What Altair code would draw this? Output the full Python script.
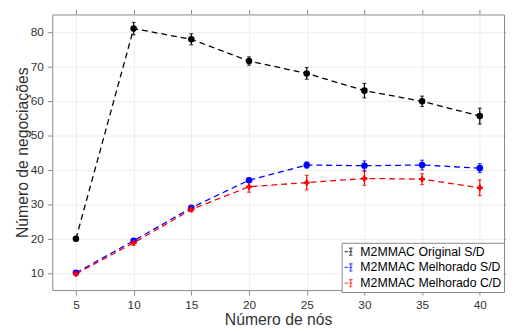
import altair as alt
import pandas as pd

nodes = [5, 10, 15, 20, 25, 30, 35, 40]
series_names = ["M2MMAC Original S/D", "M2MMAC Melhorado S/D", "M2MMAC Melhorado C/D"]
original = [19.9, 80.9, 77.8, 71.5, 67.9, 62.9, 59.8, 55.5]
original_err = [0.6, 1.8, 1.6, 1.2, 1.7, 2.1, 1.5, 2.3]
melhorado_sd = [10.0, 19.3, 28.9, 36.9, 41.3, 41.1, 41.3, 40.4]
melhorado_sd_err = [0.4, 0.5, 0.5, 0.6, 0.9, 1.4, 1.4, 1.3]
melhorado_cd = [9.7, 18.7, 28.4, 35.0, 36.2, 37.4, 37.2, 34.7]
melhorado_cd_err = [0.5, 0.7, 0.6, 1.6, 2.1, 2.0, 1.6, 2.3]
y_ticks = [10, 20, 30, 40, 50, 60, 70, 80]
colors = ["#000000", "#0000ff", "#ff0000"]

rows = []
for name, vals, errs in zip(series_names, [original, melhorado_sd, melhorado_cd],
                            [original_err, melhorado_sd_err, melhorado_cd_err]):
    for n, v, e in zip(nodes, vals, errs):
        rows.append({"nos": n, "valor": v, "lo": v - e, "hi": v + e, "serie": name})
df = pd.DataFrame(rows)

FONT = "Liberation Sans"
xscale = alt.Scale(domain=[2.95, 42.1], nice=False, zero=False)
yscale = alt.Scale(domain=[5, 85], nice=False, zero=False)

legend_path = ("M-1,0H-0.45M0.05,-0.6V0.6M-0.25,-0.6H0.35"
               "M-0.25,0.6H0.35M-0.2,0H0.3")
color = alt.Color(
    "serie:N",
    scale=alt.Scale(domain=series_names, range=colors),
    sort=series_names,
    legend=alt.Legend(
        title=None, orient="none", legendX=294, legendY=232,
        symbolType=legend_path, symbolSize=144, symbolStrokeWidth=1.2,
        symbolFillColor="transparent", labelFontSize=12.5, labelFont=FONT,
        labelColor="#000000", fillColor="white", strokeColor="#888888",
        padding=2, rowPadding=2, labelOffset=3, labelLimit=300,
    ),
)

base = alt.Chart(df)

x_plain = alt.X("nos:Q", scale=xscale, axis=None)

lines = base.mark_line(strokeDash=[6, 4], strokeWidth=1.3).encode(
    x=alt.X("nos:Q", scale=xscale,
            axis=alt.Axis(values=nodes, title="Número de nós", orient="bottom",
                          titleFontSize=16, titleFontWeight="normal",
                          titlePadding=1, labelPadding=5)),
    y=alt.Y("valor:Q", scale=yscale,
            axis=alt.Axis(values=y_ticks, title="Número de negociações", orient="left",
                          titleFontSize=16, titleFontWeight="normal",
                          titlePadding=0, labelPadding=4)),
    color=color, order="nos:Q")

top_axis = base.mark_line(opacity=0).encode(
    x=alt.X("nos:Q", scale=xscale,
            axis=alt.Axis(values=nodes, orient="top", labels=False, title=None, grid=False)),
    y=alt.Y("valor:Q", scale=yscale,
            axis=alt.Axis(values=y_ticks, orient="right",
                          labels=False, title=None, grid=False)),
    detail="serie:N",
)

bars = base.mark_rule(strokeWidth=1.2).encode(
    x=x_plain, y=alt.Y("lo:Q", scale=yscale, axis=None), y2="hi:Q",
    color=color)
caps_lo = base.mark_tick(orient="horizontal", size=4, thickness=1.2).encode(
    x=x_plain, y=alt.Y("lo:Q", scale=yscale, axis=None), color=color)
caps_hi = base.mark_tick(orient="horizontal", size=4, thickness=1.2).encode(
    x=x_plain, y=alt.Y("hi:Q", scale=yscale, axis=None), color=color)

pts_circle = base.transform_filter(
    alt.FieldOneOfPredicate(field="serie", oneOf=series_names[:2])
).mark_point(filled=True, shape="circle", size=44, opacity=1).encode(
    x=x_plain, y=alt.Y("valor:Q", scale=yscale, axis=None), color=color)
pts_star = base.transform_filter(
    alt.FieldEqualPredicate(field="serie", equal=series_names[2])
).mark_point(filled=True, shape="cross", size=36, opacity=1).encode(
    x=x_plain, y=alt.Y("valor:Q", scale=yscale, axis=None), color=color)

chart = alt.layer(lines, top_axis, bars, caps_lo, caps_hi, pts_circle, pts_star).resolve_axis(
    x="independent", y="independent"
).properties(
    width=459, height=280,
    autosize=alt.AutoSizeParams(type="none"),
    padding={"left": 45, "top": 4, "right": 2, "bottom": 40},
).configure_view(
    stroke="#888888", strokeWidth=1
).configure_axis(
    labelFont=FONT, titleFont=FONT, labelFontSize=12, labelColor="#333333",
    titleColor="#333333", tickColor="#888888", tickSize=5, domain=False,
    gridColor="#e8e8e8", gridWidth=0.8,
)

chart.save("out.html", embed_options={"renderer": "svg", "actions": False})
